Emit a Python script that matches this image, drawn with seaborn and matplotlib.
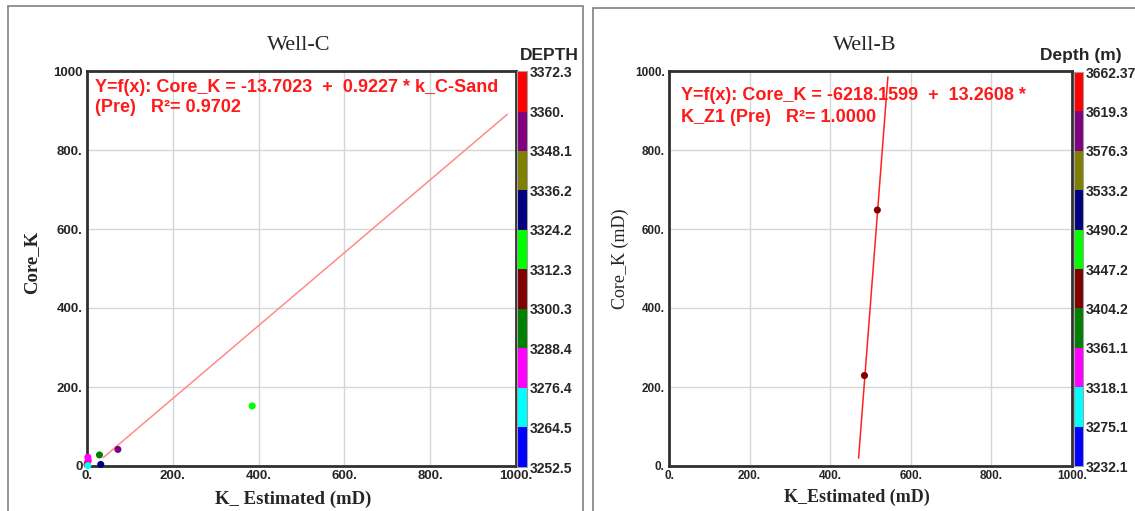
import numpy as np
import pandas as pd
import matplotlib
matplotlib.use("Agg")
import matplotlib.pyplot as plt
import matplotlib.colors as mcolors
from matplotlib.patches import Rectangle
import seaborn as sns

# ---------------- data ----------------
# Well-C: estimated vs core permeability, coloured by depth
c_k_est = [385, 72, 29, 32, 2, 3, 1, 0, 2]
c_core_k = [152, 42, 28, 4, 22, 14, 8, 3, 1]
c_depth = [3318.0, 3354.0, 3294.0, 3330.0, 3282.0, 3280.0, 3284.0, 3366.0, 3270.0]
c_intercept, c_slope, c_r2 = -13.7023, 0.9227, 0.9702
c_fit_x = [38, 980]
c_bounds = [3252.5, 3264.5, 3276.4, 3288.4, 3300.3, 3312.3, 3324.2, 3336.2, 3348.1, 3360.0, 3372.3]
c_bound_labels = ["3252.5", "3264.5", "3276.4", "3288.4", "3300.3", "3312.3",
                  "3324.2", "3336.2", "3348.1", "3360.", "3372.3"]

# Well-B
b_k_est = [485.0, 517.0]
b_core_k = [229, 648]
b_depth = [3425.0, 3430.0]
b_intercept, b_slope, b_r2 = -6218.1599, 13.2608, 1.0000
b_fit_y = [20, 985]
b_bounds = [3232.1, 3275.1, 3318.1, 3361.1, 3404.2, 3447.2, 3490.2, 3533.2, 3576.3, 3619.3, 3662.37]
b_bound_labels = ["3232.1", "3275.1", "3318.1", "3361.1", "3404.2", "3447.2",
                  "3490.2", "3533.2", "3576.3", "3619.3", "3662.37"]

depth_colors = ["#0000ff", "#00ffff", "#ff00ff", "#008000", "#800000",
                "#00ff00", "#000080", "#808000", "#800080", "#ff0000"]

tick_vals = [0, 200, 400, 600, 800, 1000]
c_xticklabels = ["0.", "200.", "400.", "600.", "800.", "1000."]
c_yticklabels = ["0", "200.", "400.", "600.", "800.", "1000"]
b_xticklabels = ["0.", "200.", "400.", "600.", "800.", "1000."]
b_yticklabels = ["0.", "200.", "400.", "600.", "800.", "1000."]

# ---------------- style ----------------
sns.set_style("white")
plt.rcParams["font.family"] = ["Liberation Sans", "DejaVu Sans"]

W, H = 1135, 511
fig = plt.figure(figsize=(W / 100, H / 100), dpi=100)
fig.patch.set_facecolor("white")

SERIF = ["Liberation Serif", "DejaVu Serif"]
EQ_RED = "#ff1a1a"


def rect(l, t, r, b):
    return [l / W, 1 - b / H, (r - l) / W, (b - t) / H]


def fx(x):
    return x / W


def fy(y):
    return 1 - y / H


# outer panel frames
fig.patches.append(Rectangle((fx(8), fy(520)), fx(583) - fx(8), fy(6) - fy(520),
                             transform=fig.transFigure, fill=False,
                             edgecolor="#808080", lw=1.2, zorder=0))
fig.patches.append(Rectangle((fx(593), fy(520)), fx(1145) - fx(593), fy(8) - fy(520),
                             transform=fig.transFigure, fill=False,
                             edgecolor="#808080", lw=1.2, zorder=0))


def draw_panel(ax_box, cax_box, kx, ky, depth, bounds, bound_labels,
               fit_x, fit_y, fit_color, xtl, ytl, tick_fs):
    ax = fig.add_axes(rect(*ax_box))
    cmap = mcolors.ListedColormap(depth_colors)
    norm = mcolors.BoundaryNorm(bounds, cmap.N)

    df = pd.DataFrame({"k_est": kx, "core_k": ky, "depth": depth})
    palette = {d: cmap(norm(d)) for d in df["depth"].unique()}

    sns.lineplot(x=fit_x, y=fit_y, ax=ax, color=fit_color, lw=1.1,
                 sort=False, estimator=None, zorder=2)
    sns.scatterplot(data=df, x="k_est", y="core_k", hue="depth", palette=palette,
                    legend=False, s=26, edgecolor="none", ax=ax, zorder=3,
                    clip_on=False)

    ax.set_xlim(0, 1000)
    ax.set_ylim(0, 1000)
    ax.set_xticks(tick_vals)
    ax.set_yticks(tick_vals)
    ax.set_xticklabels(xtl, fontsize=tick_fs, fontweight="bold")
    ax.set_yticklabels(ytl, fontsize=tick_fs, fontweight="bold")
    ax.tick_params(length=0, pad=3)
    ax.grid(True, color="#d6d6d6", lw=1.0)
    ax.set_axisbelow(True)
    for sp in ax.spines.values():
        sp.set_color("#303030")
        sp.set_linewidth(2.0)
    ax.set_xlabel("")
    ax.set_ylabel("")

    cax = fig.add_axes(rect(*cax_box))
    sm = matplotlib.cm.ScalarMappable(norm=norm, cmap=cmap)
    cb = fig.colorbar(sm, cax=cax, ticks=bounds, spacing="proportional")
    cb.ax.set_yticklabels(bound_labels, fontsize=10, fontweight="bold")
    cb.ax.tick_params(length=0, pad=2)
    cb.outline.set_edgecolor("#a0a0a0")
    cb.outline.set_linewidth(0.8)
    return ax


# ---------------- Well-C ----------------
c_fit_y = [c_intercept + c_slope * x for x in c_fit_x]
axc = draw_panel((87, 71, 516, 466), (517, 71, 527, 467), c_k_est, c_core_k, c_depth,
                 c_bounds, c_bound_labels, c_fit_x, c_fit_y, "#ff8a8a",
                 c_xticklabels, c_yticklabels, 9.5)
fig.text(fx(299), fy(46), "Well-C", ha="center", va="center", fontsize=16, family=SERIF)
fig.text(fx(549), fy(55), "DEPTH", ha="center", va="center", fontsize=12.5,
         fontweight="bold")
fig.text(fx(32), fy(262), "Core_K", ha="center", va="center", rotation=90,
         fontsize=13.5, fontweight="bold", family=SERIF)
fig.text(fx(293), fy(499), "K_ Estimated (mD)", ha="center", va="center",
         fontsize=13.5, fontweight="bold", family=SERIF)
fig.text(fx(95), fy(87),
         f"Y=f(x): Core_K = {c_intercept:.4f}  +  {c_slope:.4f} * k_C-Sand",
         ha="left", va="center", fontsize=13, fontweight="bold", color=EQ_RED)
fig.text(fx(95), fy(108), f"(Pre)   R\u00b2= {c_r2:.4f}",
         ha="left", va="center", fontsize=13, fontweight="bold", color=EQ_RED)

# ---------------- Well-B ----------------
b_fit_x = [(y - b_intercept) / b_slope for y in b_fit_y]
axb = draw_panel((669, 71, 1072, 466), (1074, 72, 1083, 466), b_k_est, b_core_k, b_depth,
                 b_bounds, b_bound_labels, b_fit_x, b_fit_y, "#ff2020",
                 b_xticklabels, b_yticklabels, 8.5)
fig.text(fx(865), fy(46), "Well-B", ha="center", va="center", fontsize=16, family=SERIF)
fig.text(fx(1081), fy(55), "Depth (m)", ha="center", va="center", fontsize=12.5,
         fontweight="bold")
fig.text(fx(620), fy(259), "Core_K (mD)", ha="center", va="center", rotation=90,
         fontsize=13, family=SERIF)
fig.text(fx(857), fy(497), "K_Estimated (mD)", ha="center", va="center",
         fontsize=13, fontweight="bold", family=SERIF)
fig.text(fx(681), fy(95),
         f"Y=f(x): Core_K = {b_intercept:.4f}  +  {b_slope:.4f} *",
         ha="left", va="center", fontsize=13, fontweight="bold", color=EQ_RED)
fig.text(fx(681), fy(118), f"K_Z1 (Pre)   R\u00b2= {b_r2:.4f}",
         ha="left", va="center", fontsize=13, fontweight="bold", color=EQ_RED)

fig.savefig("out.png", dpi=100, facecolor="white")
